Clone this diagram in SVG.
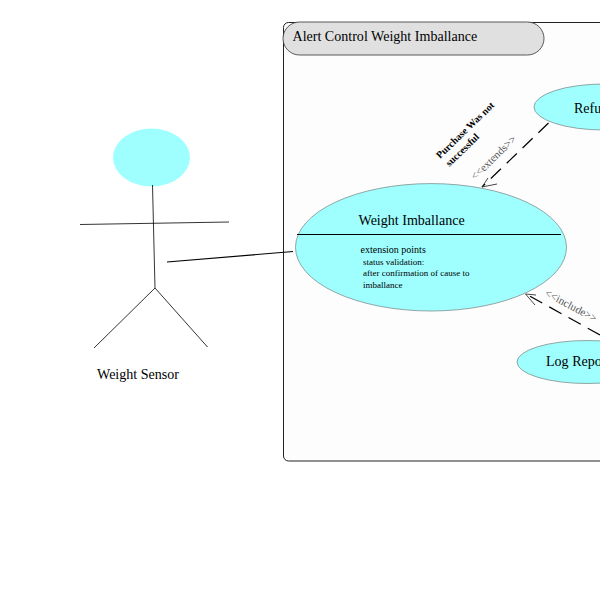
<svg xmlns="http://www.w3.org/2000/svg" width="600" height="600" viewBox="0 0 600 600">
<style>
text{font-family:"Liberation Serif","Times New Roman",serif;fill:#000}
.uc{fill:#9fffff;stroke:#7f8f8f;stroke-width:.8}
.ln{fill:none;stroke:#000;stroke-width:.8}
.as{fill:none;stroke:#000;stroke-width:1.1}
.dash{fill:none;stroke:#000;stroke-width:1.2;stroke-dasharray:14 8}
.head{fill:none;stroke:#333;stroke-width:.9}
.t14{font-size:14.05px}
.t10{font-size:10px}
.t9{font-size:9px}
.st{font-size:11px;fill:#555}
</style>
<rect width="600" height="600" fill="#fff"/>
<g id="system">
<rect x="283.500" y="22.500" width="340" height="438.500" rx="5" fill="#fdfdfd" stroke="#222" stroke-width="1"/>
<rect x="283" y="22" width="261" height="33" rx="16.500" fill="#e0e0e0" stroke="#333" stroke-width=".8"/>
<text class="t14" x="292.500" y="41">Alert Control Weight Imballance</text>
</g>
<g id="actor-weight-sensor">
<ellipse cx="151.500" cy="157.500" rx="38.500" ry="29" fill="#9fffff"/>
<path class="ln" d="M152.500 185L155 288M80 224.500L229 222M155 288L94 348M155 288L207.500 347"/>
<text class="t14" x="97" y="379">Weight Sensor</text>
</g>
<g id="uc-weight-imballance">
<ellipse class="uc" cx="431" cy="247.300" rx="135.500" ry="63.700"/>
<path d="M297 234.500H561" stroke="#000" stroke-width="1"/>
<text class="t14" x="358.500" y="225">Weight Imballance</text>
<text class="t10" x="360.500" y="253">extension points</text>
<text class="t9" x="363" y="265">status validation:</text>
<text class="t9" x="363" y="276">after confirmation of cause to</text>
<text class="t9" x="363" y="288">imballance</text>
</g>
<g id="uc-refund">
<ellipse class="uc" cx="604" cy="107" rx="70" ry="23"/>
<text class="t14" x="574" y="113">Refu</text>
</g>
<g id="uc-log-report">
<ellipse class="uc" cx="587" cy="362" rx="70" ry="21.500"/>
<text class="t14" x="546" y="366">Log Repo</text>
</g>
<g id="connectors">
<path class="as" d="M167 262L293 251.500"/>
<path class="dash" d="M548.500 123L482 187"/>
<path class="head" d="M488 178L482 187L497 184"/>
<path class="dash" d="M600 335L526 294"/>
<path class="head" d="M535 305L525.500 294L536 295"/>
<text class="st" transform="translate(475 180.500) rotate(-44)">&lt;&lt;extends&gt;&gt;</text>
<text class="st" transform="translate(544 295.500) rotate(28)">&lt;&lt;include&gt;&gt;</text>
<text class="t10" font-weight="bold" transform="translate(440 159) rotate(-44)">Purchase Was not</text>
<text class="t10" font-weight="bold" transform="translate(449.500 167) rotate(-44)">successful</text>
</g>
</svg>
